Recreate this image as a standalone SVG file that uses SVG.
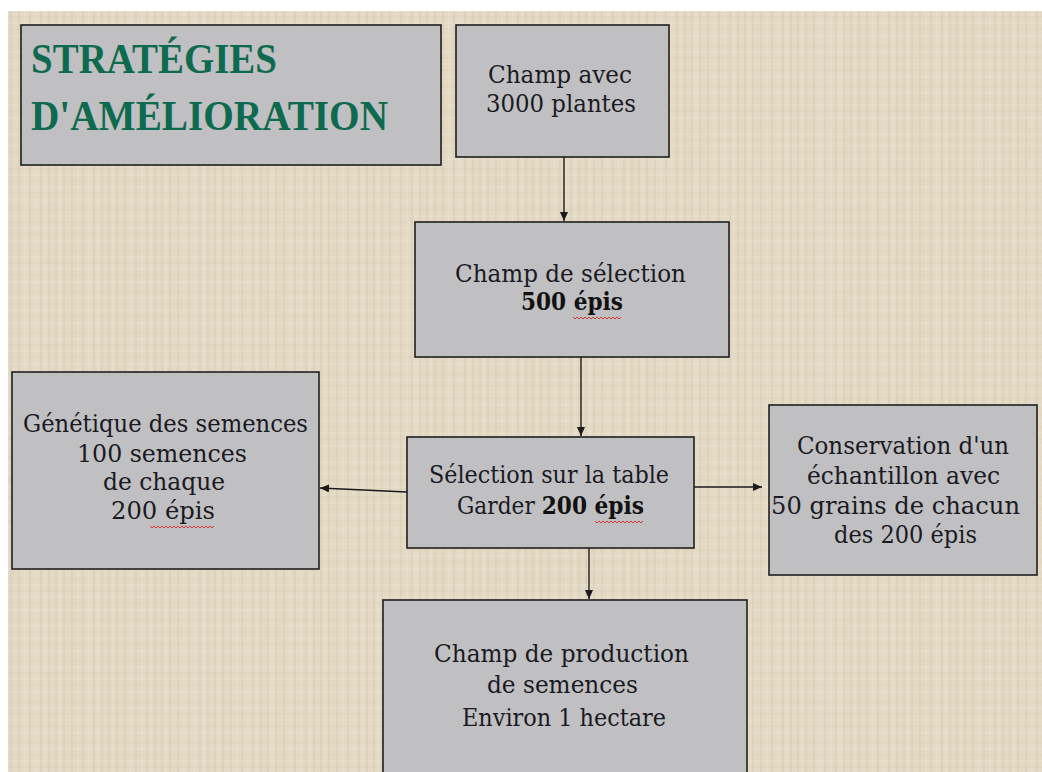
<svg xmlns="http://www.w3.org/2000/svg" width="1042" height="772" viewBox="0 0 1042 772">
<style>
.box{fill:#c0c0c2;stroke:#1e1e1e;stroke-width:1.6}
.t{font-family:"DejaVu Serif Condensed","DejaVu Serif","Liberation Serif",serif;font-size:25px;fill:#1a1a22;text-anchor:start}
.b{font-weight:bold;fill:#111}
.title{font-family:"Liberation Serif","DejaVu Serif",serif;font-weight:bold;font-size:42px;fill:#0e6a4e}
.conn{stroke:#1a1a1a;stroke-width:1.4;fill:none;marker-end:url(#ah)}
.sq{stroke:#d23a3a;stroke-width:1;fill:none}
</style>
<defs>
<marker id="ah" markerUnits="userSpaceOnUse" markerWidth="10" markerHeight="8" refX="9" refY="4" orient="auto">
<path d="M0,0 L9,4 L0,8 z" fill="#1a1a1a"/>
</marker>
<pattern id="linen" patternUnits="userSpaceOnUse" width="53" height="41">
<rect width="53" height="41" fill="#e3d9c4"/>
<path d="M3 0V41M11 0V41M19 0V41M30 0V41M41 0V41M49 0V41" stroke="#d0c4ab" stroke-width="1.2" opacity="0.55"/>
<path d="M7 0V41M25 0V41M36 0V41M45 0V41" stroke="#efe7d6" stroke-width="1" opacity="0.6"/>
<path d="M0 5H53M0 17H53M0 29H53" stroke="#d6cab3" stroke-width="1" opacity="0.4"/>
<path d="M0 11H53M0 23H53M0 36H53" stroke="#eee6d5" stroke-width="1" opacity="0.5"/>
</pattern>
</defs>
<rect width="1042" height="772" fill="#ffffff"/>
<rect x="8" y="11" width="1034" height="761" fill="url(#linen)"/>

<g id="title">
<rect class="box" x="21" y="25" width="420" height="140"/>
<text class="title" x="31" y="73" textLength="246" lengthAdjust="spacingAndGlyphs">STRATÉGIES</text>
<text class="title" x="31" y="130" textLength="357" lengthAdjust="spacingAndGlyphs">D'AMÉLIORATION</text>
</g>

<g id="champ-avec">
<rect class="box" x="456" y="25" width="213" height="132"/>
<text class="t" x="488" y="83" textLength="144" lengthAdjust="spacingAndGlyphs">Champ avec</text>
<text class="t" x="486" y="112" textLength="150" lengthAdjust="spacingAndGlyphs">3000 plantes</text>
</g>

<g id="champ-selection">
<rect class="box" x="415" y="222" width="314" height="135"/>
<text class="t" x="455" y="282" textLength="231" lengthAdjust="spacingAndGlyphs">Champ de sélection</text>
<text class="t b" x="521" y="310" textLength="102" lengthAdjust="spacingAndGlyphs">500 épis</text>
<path class="sq" d="M573 317 l2 2 l2 -2 l2 2 l2 -2 l2 2 l2 -2 l2 2 l2 -2 l2 2 l2 -2 l2 2 l2 -2 l2 2 l2 -2 l2 2 l2 -2 l2 2 l2 -2 l2 2 l2 -2 l2 2 l2 -2 l2 2 l2 -2"/>
</g>

<g id="genetique">
<rect class="box" x="12" y="372" width="307" height="197"/>
<text class="t" x="23" y="432" textLength="285" lengthAdjust="spacingAndGlyphs">Génétique des semences</text>
<text class="t" x="77" y="462" textLength="170" lengthAdjust="spacingAndGlyphs">100 semences</text>
<text class="t" x="103" y="490" textLength="122" lengthAdjust="spacingAndGlyphs">de chaque</text>
<text class="t" x="111" y="519" textLength="104" lengthAdjust="spacingAndGlyphs">200 épis</text>
<path class="sq" d="M150 526 l2 2 l2 -2 l2 2 l2 -2 l2 2 l2 -2 l2 2 l2 -2 l2 2 l2 -2 l2 2 l2 -2 l2 2 l2 -2 l2 2 l2 -2 l2 2 l2 -2 l2 2 l2 -2 l2 2 l2 -2 l2 2 l2 -2 l2 2 l2 -2 l2 2 l2 -2 l2 2 l2 -2 l2 2 l2 -2"/>
</g>

<g id="selection-table">
<rect class="box" x="407" y="437" width="287" height="111"/>
<text class="t" x="429" y="483" textLength="240" lengthAdjust="spacingAndGlyphs">Sélection sur la table</text>
<text class="t" x="457" y="514" textLength="187" lengthAdjust="spacingAndGlyphs">Garder <tspan class="b">200 épis</tspan></text>
<path class="sq" d="M595 521 l2 2 l2 -2 l2 2 l2 -2 l2 2 l2 -2 l2 2 l2 -2 l2 2 l2 -2 l2 2 l2 -2 l2 2 l2 -2 l2 2 l2 -2 l2 2 l2 -2 l2 2 l2 -2 l2 2 l2 -2 l2 2 l2 -2"/>
</g>

<g id="conservation">
<rect class="box" x="769" y="405" width="268" height="170"/>
<text class="t" x="797" y="454" textLength="212" lengthAdjust="spacingAndGlyphs">Conservation d'un</text>
<text class="t" x="807" y="484" textLength="193" lengthAdjust="spacingAndGlyphs">échantillon avec</text>
<text class="t" x="771" y="514" textLength="249" lengthAdjust="spacingAndGlyphs">50 grains de chacun</text>
<text class="t" x="834" y="543" textLength="143" lengthAdjust="spacingAndGlyphs">des 200 épis</text>
</g>

<g id="production">
<rect class="box" x="383" y="600" width="364" height="180"/>
<text class="t" x="434" y="662" textLength="255" lengthAdjust="spacingAndGlyphs">Champ de production</text>
<text class="t" x="487" y="693" textLength="151" lengthAdjust="spacingAndGlyphs">de semences</text>
<text class="t" x="462" y="726" textLength="204" lengthAdjust="spacingAndGlyphs">Environ 1 hectare</text>
</g>

<g id="connectors">
<path class="conn" d="M564 157 L564 221"/>
<path class="conn" d="M581 357 L581 436"/>
<path class="conn" d="M407 492 L320 488"/>
<path class="conn" d="M694 487 L762 487"/>
<path class="conn" d="M589 548 L589 599"/>
</g>
</svg>
